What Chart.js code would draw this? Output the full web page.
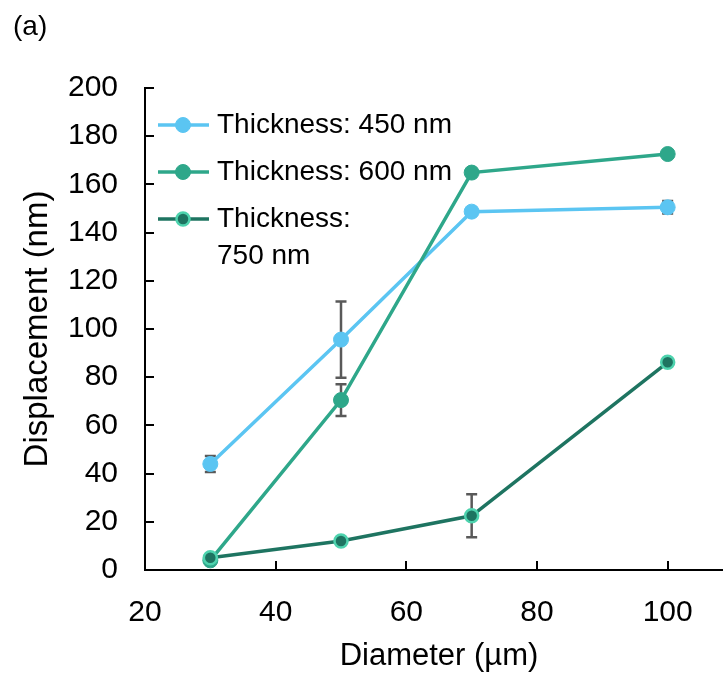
<!DOCTYPE html>
<html>
<head>
<meta charset="utf-8">
<script src="https://cdn.jsdelivr.net/npm/chart.js@4/dist/chart.umd.min.js"></script>
<style>
  html, body { margin: 0; padding: 0; background: #fff; overflow: hidden; }
  #panel { position: absolute; left: 13px; top: 10px; font: 28px "Liberation Sans", Arial, sans-serif; color: #000; }
  #wrap { position: absolute; left: 0; top: 0; width: 742px; height: 675px; }
</style>
</head>
<body>
<div id="wrap"><canvas id="c"></canvas></div>
<div id="panel">(a)</div>
<script>
// Membrane displacement vs. diameter for three film thicknesses
const diameters = [30, 50, 70, 100];

const disp450 = [44.0, 95.6, 148.7, 150.5];
const err450  = [3.3, 15.8, 0, 2.6];

const disp600 = [4.0, 70.5, 164.9, 172.6];
const err600  = [0, 6.6, 0, 0];

const disp750 = [5.1, 12.0, 22.5, 86.2];
const err750  = [0, 0, 8.9, 0];

const seriesLabels = ['Thickness: 450 nm', 'Thickness: 600 nm', ['Thickness:', '750 nm']];

const xTickValues = [20, 40, 60, 80, 100];
const xAxisMin = 20, xAxisMax = 110;
const yAxisMin = 0, yAxisMax = 200, yStep = 20;

const FONT = '"Liberation Sans", Arial, sans-serif';

function points(values) {
  return diameters.map((d, i) => ({ x: d, y: values[i] }));
}

// vertical error bars with caps, drawn beneath the series
const errorBars = {
  id: 'errorBars',
  beforeDatasetsDraw(chart) {
    const { ctx, scales: { x, y } } = chart;
    ctx.save();
    ctx.strokeStyle = '#595959';
    ctx.lineWidth = 2.5;
    chart.data.datasets.forEach(ds => {
      ds.errors.forEach((e, i) => {
        if (!e) return;
        const px = x.getPixelForValue(diameters[i]);
        const top = y.getPixelForValue(ds.values[i] + e);
        const bot = y.getPixelForValue(ds.values[i] - e);
        ctx.beginPath();
        ctx.moveTo(px, top); ctx.lineTo(px, bot);
        ctx.moveTo(px - 5.5, top); ctx.lineTo(px + 5.5, top);
        ctx.moveTo(px - 5.5, bot); ctx.lineTo(px + 5.5, bot);
        ctx.stroke();
      });
    });
    ctx.restore();
  }
};

// inward tick marks on both axes
const innerTicks = {
  id: 'innerTicks',
  afterDraw(chart) {
    const { ctx, chartArea, scales: { x, y } } = chart;
    ctx.save();
    ctx.strokeStyle = '#000';
    ctx.lineWidth = 2;
    ctx.beginPath();
    x.ticks.forEach(t => {
      const px = Math.round(x.getPixelForValue(t.value));
      ctx.moveTo(px, chartArea.bottom); ctx.lineTo(px, chartArea.bottom - 9);
    });
    y.ticks.forEach(t => {
      const py = Math.round(y.getPixelForValue(t.value));
      ctx.moveTo(chartArea.left, py); ctx.lineTo(chartArea.left + 9, py);
    });
    ctx.stroke();
    ctx.restore();
  }
};

// legend in the upper-left corner of the plot
const insetLegend = {
  id: 'insetLegend',
  afterDraw(chart) {
    const { ctx } = chart;
    const rows = [125, 172, 219];
    ctx.save();
    ctx.font = '28px ' + FONT;
    ctx.textBaseline = 'middle';
    ctx.textAlign = 'left';
    chart.data.datasets.forEach((ds, i) => {
      const cy = rows[i];
      ctx.strokeStyle = ds.borderColor;
      ctx.lineWidth = ds.borderWidth;
      ctx.beginPath();
      ctx.moveTo(158, cy); ctx.lineTo(209, cy);
      ctx.stroke();
      ctx.beginPath();
      ctx.arc(183, cy, ds.pointRadius, 0, Math.PI * 2);
      ctx.fillStyle = ds.pointBackgroundColor;
      ctx.fill();
      ctx.lineWidth = ds.pointBorderWidth;
      ctx.strokeStyle = ds.pointBorderColor;
      ctx.stroke();
      ctx.fillStyle = '#000';
      const lines = Array.isArray(ds.label) ? ds.label : [ds.label];
      lines.forEach((ln, k) => ctx.fillText(ln, 217, cy + k * 37));
    });
    ctx.restore();
  }
};

new Chart(document.getElementById('c'), {
  type: 'line',
  data: {
    datasets: [
      {
        label: seriesLabels[0], data: points(disp450), values: disp450, errors: err450,
        borderColor: '#5BC5F2', borderWidth: 3.5,
        pointBackgroundColor: '#5BC5F2', pointBorderColor: '#5BC5F2',
        pointRadius: 7.5, pointBorderWidth: 1, order: 3
      },
      {
        label: seriesLabels[1], data: points(disp600), values: disp600, errors: err600,
        borderColor: '#2EA78A', borderWidth: 3.5,
        pointBackgroundColor: '#2EA78A', pointBorderColor: '#2EA78A',
        pointRadius: 7.5, pointBorderWidth: 1, order: 2
      },
      {
        label: seriesLabels[2], data: points(disp750), values: disp750, errors: err750,
        borderColor: '#1E7461', borderWidth: 3.5,
        pointBackgroundColor: '#1E7461', pointBorderColor: '#4ED3AE',
        pointRadius: 6.5, pointBorderWidth: 2.5, order: 1
      }
    ]
  },
  options: {
    responsive: true,
    maintainAspectRatio: false,
    animation: false,
    layout: { padding: { left: 0, right: 0, top: 88, bottom: 0 } },
    plugins: { legend: { display: false }, tooltip: { enabled: false } },
    scales: {
      x: {
        type: 'linear', min: xAxisMin, max: xAxisMax,
        grid: { display: false, drawTicks: false },
        border: { display: true, color: '#000', width: 2 },
        ticks: { color: '#000', padding: 25, maxRotation: 0, font: { family: FONT, size: 30 } },
        afterBuildTicks(s) { s.ticks = xTickValues.map(v => ({ value: v })); },
        title: { display: true, text: 'Diameter (µm)', color: '#000', padding: { top: 0, bottom: 0 }, font: { family: FONT, size: 31 } },
        afterFit(s) { s.height = 105; s.paddingLeft = 0; s.paddingRight = 0; }
      },
      y: {
        min: yAxisMin, max: yAxisMax,
        grid: { display: false, drawTicks: false },
        border: { display: true, color: '#000', width: 2 },
        ticks: { stepSize: yStep, color: '#000', padding: 27, font: { family: FONT, size: 30 } },
        title: { display: true, text: 'Displacement (nm)', color: '#000', padding: { top: 18, bottom: 0 }, font: { family: FONT, size: 33 } },
        afterFit(s) { s.width = 145; }
      }
    }
  },
  plugins: [errorBars, innerTicks, insetLegend]
});
</script>
</body>
</html>
